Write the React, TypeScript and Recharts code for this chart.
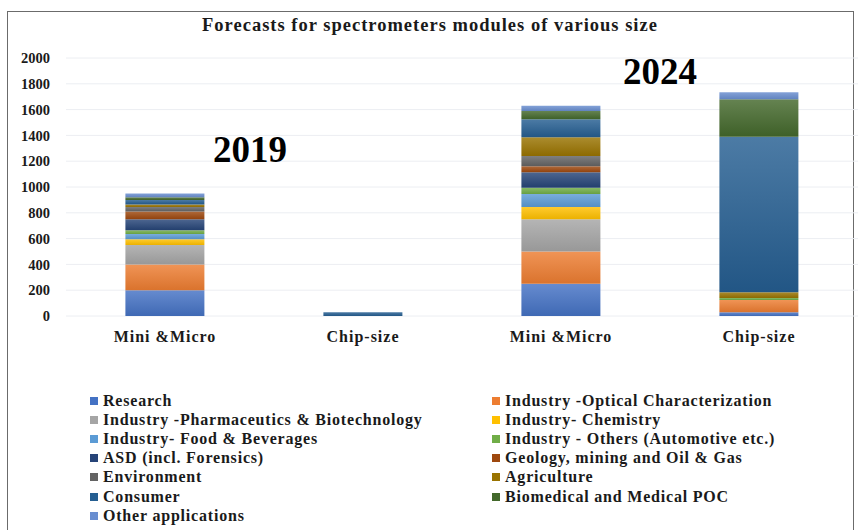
import React from "react";
import { BarChart, Bar, XAxis, YAxis, CartesianGrid } from "recharts";

const categories = ["Mini &Micro", "Chip-size", "Mini &Micro ", "Chip-size "];
const yTicks = [0, 200, 400, 600, 800, 1000, 1200, 1400, 1600, 1800, 2000];

const seriesNames = [
  "Research",
  "Industry -Optical Characterization",
  "Industry -Pharmaceutics & Biotechnology",
  "Industry- Chemistry",
  "Industry- Food & Beverages",
  "Industry - Others (Automotive etc.)",
  "ASD (incl. Forensics)",
  "Geology, mining and Oil & Gas",
  "Environment",
  "Agriculture",
  "Consumer",
  "Biomedical and Medical POC",
  "Other applications",
];

const research = [200, 0, 250, 30];
const optical = [200, 0, 250, 95];
const pharma = [150, 0, 250, 0];
const chemistry = [45, 0, 95, 0];
const food = [40, 0, 100, 0];
const others = [30, 0, 50, 15];
const asd = [85, 0, 120, 0];
const geology = [60, 0, 45, 0];
const environment = [35, 0, 80, 0];
const agriculture = [20, 0, 145, 45];
const consumer = [35, 30, 140, 1205];
const biomedical = [20, 0, 65, 290];
const otherApps = [30, 0, 40, 55];

const seriesValues = [
  research, optical, pharma, chemistry, food, others, asd,
  geology, environment, agriculture, consumer, biomedical, otherApps,
];

const colors = [
  "#4472C4", "#ED7D31", "#A5A5A5", "#FFC000", "#5B9BD5", "#70AD47", "#264478",
  "#9E480E", "#636363", "#997300", "#255E91", "#43682B", "#698ED0",
];

const yearLabels = ["2019", "2024"];

const data = categories.map((c, i) => {
  const row: Record<string, any> = { cat: c };
  seriesValues.forEach((vals, k) => {
    row["s" + k] = vals[i];
  });
  return row;
});

function mix(hex: string, target: number, amt: number) {
  const n = parseInt(hex.slice(1), 16);
  const r = (n >> 16) & 255, g = (n >> 8) & 255, b = n & 255;
  const f = (v: number) => Math.round(v + (target - v) * amt);
  return `rgb(${f(r)},${f(g)},${f(b)})`;
}

const FONT = "'Liberation Serif', 'DejaVu Serif', serif";

export default function App() {
  return (
    <div style={{ position: "absolute", left: 0, top: 0, width: 860, height: 530, background: "#fff", overflow: "hidden", fontFamily: FONT }}>
      <div style={{ position: "absolute", left: 7, top: 11, width: 847, height: 540, border: "1.5px solid #6b6b6b", boxSizing: "border-box" }} />
      <div style={{ position: "absolute", left: 0, width: 860, top: 15, textAlign: "center", fontWeight: "bold", fontSize: 18.5, letterSpacing: 1, color: "#1a1a1a" }}>
        Forecasts for spectrometers modules of various size
      </div>
      <BarChart
        width={860}
        height={530}
        data={data}
        margin={{ top: 58, right: 2, bottom: 184, left: 0 }}
        barCategoryGap="30%"
        style={{ position: "absolute", left: 0, top: 0 }}
      >
        <defs>
          {colors.map((c, k) => (
            <linearGradient key={k} id={"g" + k} x1="0" y1="0" x2="0" y2="1">
              <stop offset="0%" stopColor={mix(c, 255, 0.18)} />
              <stop offset="100%" stopColor={mix(c, 0, 0.08)} />
            </linearGradient>
          ))}
        </defs>
        <CartesianGrid horizontal vertical={false} stroke="#eceef2" />
        <XAxis
          dataKey="cat"
          axisLine={false}
          tickLine={false}
          tickSize={0}
          tickMargin={15}
          height={30}
          tick={{ fontFamily: FONT, fontWeight: "bold", fontSize: 16, letterSpacing: 1, fill: "#1a1a1a" }}
        />
        <YAxis
          domain={[0, 2000]}
          ticks={yTicks}
          width={66}
          axisLine={false}
          tickLine={false}
          tickSize={0}
          tickMargin={16}
          tick={{ fontFamily: FONT, fontWeight: "bold", fontSize: 14.5, fill: "#1a1a1a" }}
        />
        {seriesNames.map((name, k) => (
          <Bar key={k} dataKey={"s" + k} name={name} stackId="a" fill={`url(#g${k})`} isAnimationActive={false} />
        ))}
      </BarChart>
      <div style={{ position: "absolute", left: 213, top: 128, fontSize: 37, fontWeight: "bold", color: "#000" }}>{yearLabels[0]}</div>
      <div style={{ position: "absolute", left: 623, top: 50, fontSize: 37, fontWeight: "bold", color: "#000" }}>{yearLabels[1]}</div>
      <div style={{ position: "absolute", left: 90, top: 391, width: 780, display: "grid", gridTemplateColumns: "402px 378px", rowGap: 0 }}>
        {seriesNames.map((name, k) => (
          <div key={k} style={{ display: "flex", alignItems: "center", height: 19.2, fontSize: 16, letterSpacing: 0.8, fontWeight: "bold", color: "#1a1a1a", whiteSpace: "nowrap" }}>
            <span style={{ display: "inline-block", width: 8, height: 8, background: colors[k], marginRight: 5 }} />
            {name}
          </div>
        ))}
      </div>
    </div>
  );
}
